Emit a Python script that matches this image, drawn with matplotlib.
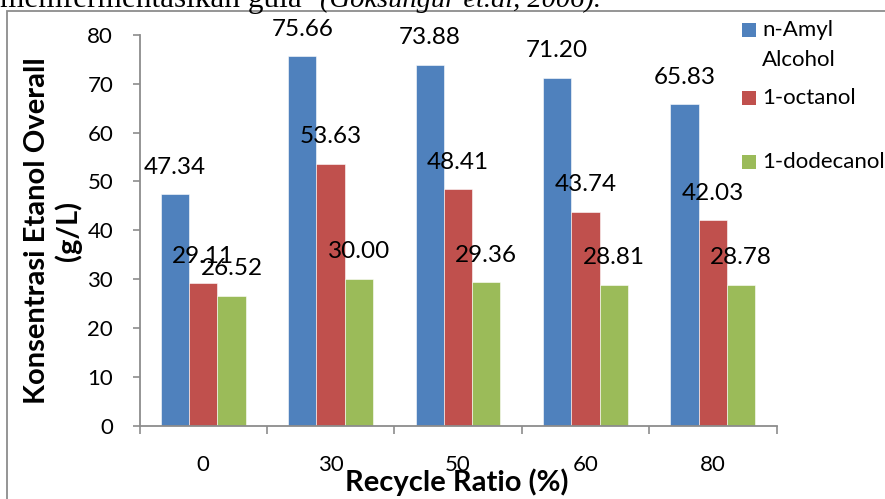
import matplotlib
matplotlib.use("Agg")
import matplotlib.pyplot as plt
from matplotlib.patches import Rectangle
import numpy as np

plt.rcParams['font.family'] = ['Lato', 'DejaVu Sans']

categories = ["0", "30", "50", "60", "80"]
series_names = ["n-Amyl\nAlcohol", "1-octanol", "1-dodecanol"]
amyl = [47.34, 75.66, 73.88, 71.20, 65.83]
octanol = [29.11, 53.63, 48.41, 43.74, 42.03]
dodecanol = [26.52, 30.00, 29.36, 28.81, 28.78]
series_values = [amyl, octanol, dodecanol]
colors = ["#4F81BD", "#C0504D", "#9BBB59"]
yticks = [0, 10, 20, 30, 40, 50, 60, 70, 80]

W, H = 885, 499
fig = plt.figure(figsize=(W/100, H/100), dpi=100)

# outer frame
fig.patches.append(Rectangle((7/W, -0.1), 1.2, (H-11)/H + 0.1, transform=fig.transFigure,
                             fill=False, edgecolor="#8c8c8c", linewidth=1.3))

# clipped header text from the document
fig.text(0.0, 1 - 7/H, "memfermentasikan gula", fontsize=22.5, family="Liberation Serif",
         va="baseline", ha="left")
fig.text(320/W, 1 - 7/H, "(Goksungur et.al, 2006).", fontsize=20.5, family="Liberation Serif",
         style="italic", va="baseline", ha="left")

ax = fig.add_axes([139.5/W, (H-425.5)/H, (776.5-139.5)/W, (425.5-35)/H])
x = np.arange(len(categories))
bw = 0.222
offsets = [-bw, 0, bw]
for vals, off, c in zip(series_values, offsets, colors):
    ax.bar(x + off, vals, width=bw, color=c, edgecolor="white", linewidth=0.4, zorder=2)
    for xi, v in zip(x + off, vals):
        ax.annotate(f"{v:.2f}", (xi, v), xytext=(0, 19.5), textcoords="offset points",
                    ha="center", va="center", fontsize=17.5, zorder=3)

ax.set_xlim(-0.5, len(categories) - 0.5)
ax.set_ylim(0, 80)
ax.set_yticks(yticks)
ax.set_xticks(x)
ax.set_xticklabels(categories, fontsize=16)
ax.set_xticks(np.arange(-0.5, len(categories)), minor=True)
ax.tick_params(axis="x", which="major", length=0, pad=21)
ax.tick_params(axis="x", which="minor", length=5.8, width=1.2, color="#8c8c8c", direction="out")
ax.tick_params(axis="y", length=5.4, width=1.2, color="#8c8c8c", labelsize=16, pad=13.5)
for s in ["top", "right"]:
    ax.spines[s].set_visible(False)
for s in ["left", "bottom"]:
    ax.spines[s].set_color("#8c8c8c")
    ax.spines[s].set_linewidth(1.3)

# axis titles
fig.text(457/W, 1 - 482/H, "Recycle Ratio (%)", fontsize=21, fontweight="bold",
         ha="center", va="center")
fig.text(53/W, 1 - 231/H, "Konsentrasi Etanol Overall\n(g/L)", fontsize=21, fontweight="bold",
         rotation=90, ha="center", va="center", multialignment="center", linespacing=1.2)

# legend (manual, Excel-like spacing)
leg_rows = [30, 98, 162]
for name, c, yc in zip(series_names, colors, leg_rows):
    fig.patches.append(Rectangle((742/W, 1 - (yc + 7)/H), 14/W, 14/H, transform=fig.transFigure,
                                 facecolor=c, edgecolor="none"))
    lines = name.split("\n")
    for k, ln in enumerate(lines):
        fig.text(762/W, 1 - (yc + 30*k)/H, ln, fontsize=16, va="center", ha="left")

fig.savefig("out.png", dpi=100)
